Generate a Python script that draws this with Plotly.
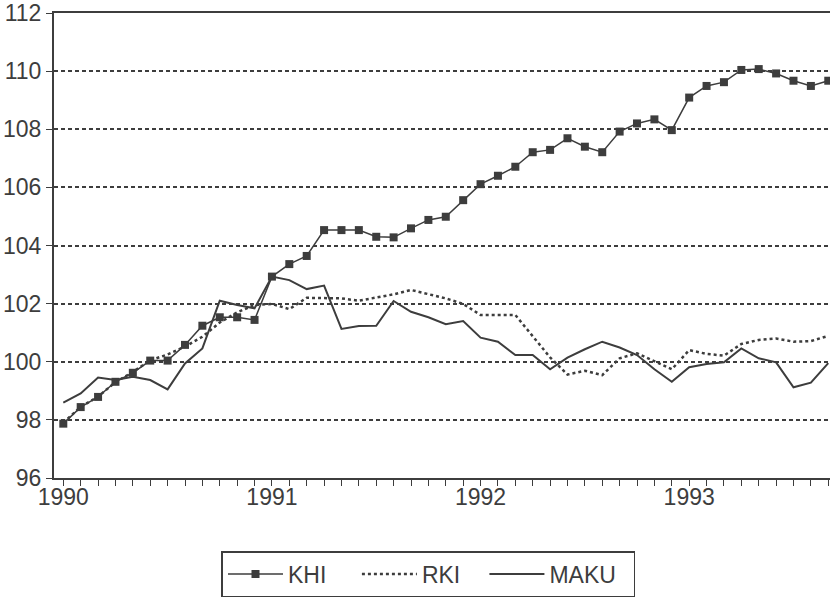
import plotly.graph_objects as go

# Monthly index values, Jan 1990 .. Sep 1993
start_year = 1990
khi = [97.87, 98.44, 98.79, 99.31, 99.62, 100.04, 100.04, 100.58, 101.24, 101.53, 101.53, 101.44,
       102.93, 103.36, 103.64, 104.53, 104.53, 104.53, 104.30, 104.28, 104.59, 104.88, 104.99, 105.56,
       106.11, 106.40, 106.71, 107.21, 107.29, 107.69, 107.40, 107.21, 107.92, 108.20, 108.34, 107.97,
       109.09, 109.49, 109.62, 110.04, 110.07, 109.92, 109.67, 109.49, 109.67]
rki = [97.90, 98.45, 98.80, 99.30, 99.65, 100.05, 100.25, 100.52, 100.86, 101.35, 101.70, 101.95,
       101.99, 101.81, 102.20, 102.20, 102.18, 102.10, 102.20, 102.32, 102.47, 102.32, 102.18, 101.99,
       101.61, 101.61, 101.61, 100.88, 100.15, 99.56, 99.69, 99.54, 100.12, 100.29, 100.02, 99.74,
       100.40, 100.27, 100.21, 100.61, 100.75, 100.80, 100.69, 100.71, 100.89]
maku = [98.59, 98.91, 99.46, 99.37, 99.48, 99.37, 99.05, 99.94, 100.46, 102.10, 101.95, 101.84,
        102.93, 102.81, 102.50, 102.62, 101.13, 101.23, 101.24, 102.09, 101.72, 101.53, 101.29, 101.40,
        100.83, 100.69, 100.23, 100.23, 99.74, 100.14, 100.43, 100.69, 100.49, 100.23, 99.74, 99.31,
        99.81, 99.92, 99.98, 100.46, 100.12, 99.98, 99.12, 99.28, 99.95]
series_names = ["KHI", "RKI", "MAKU"]
year_ticks = [1990, 1991, 1992, 1993]
y_ticks = [96, 98, 100, 102, 104, 106, 108, 110, 112]

x = [start_year + i / 12 for i in range(len(khi))]

ink = "#3d3d3d"
font_family = "Liberation Sans, Arial, sans-serif"
nb = "\u00a0"

fig = go.Figure()
fig.add_trace(go.Scatter(
    x=x, y=khi, name=series_names[0] + nb * 4, mode="lines+markers",
    line=dict(color=ink, width=1.5),
    marker=dict(symbol="square", size=8, color=ink),
))
fig.add_trace(go.Scatter(
    x=x, y=rki, name=series_names[1] + nb * 3, mode="lines",
    line=dict(color=ink, width=2.5, dash="3px,3px"),
))
fig.add_trace(go.Scatter(
    x=x, y=maku, name=series_names[2] + nb * 2, mode="lines",
    line=dict(color=ink, width=2),
))

fig.update_layout(
    width=830, height=599,
    margin=dict(l=54, r=0, t=13, b=121, autoexpand=False),
    paper_bgcolor="white", plot_bgcolor="white",
    font=dict(family=font_family, size=23, color=ink),
    showlegend=True,
    legend=dict(
        orientation="h", x=0.4826, xanchor="center", y=-0.157, yanchor="top",
        bordercolor=ink, borderwidth=1.5, font=dict(size=23),
        itemwidth=55,
    ),
)

fig.update_xaxes(
    range=[start_year - 0.535 / 12, start_year + 44.1 / 12],
    tickmode="array", tickvals=year_ticks, ticktext=[str(v) for v in year_ticks],
    ticks="outside", ticklen=6, tickwidth=1.2, tickcolor=ink,
    minor=dict(dtick=1 / 12, tick0=start_year, ticks="outside", ticklen=6,
               tickwidth=1.2, tickcolor=ink, showgrid=False),
    showline=True, linecolor=ink, linewidth=2, mirror=True,
    showgrid=False, zeroline=False, automargin=False,
    ticklabelstandoff=-9,
    tickfont=dict(size=23, color=ink),
)
fig.update_yaxes(
    range=[96, 112],
    tickmode="array", tickvals=y_ticks,
    ticks="outside", ticklen=6, tickwidth=1.2, tickcolor=ink,
    showline=True, linecolor=ink, linewidth=2,
    showgrid=True, gridcolor=ink, gridwidth=1.5, griddash="4px,3px",
    zeroline=False, automargin=False,
    tickfont=dict(size=23, color=ink),
)

fig.write_html("out.html", config={"displayModeBar": False},
               post_script="document.body.style.margin='0';")
